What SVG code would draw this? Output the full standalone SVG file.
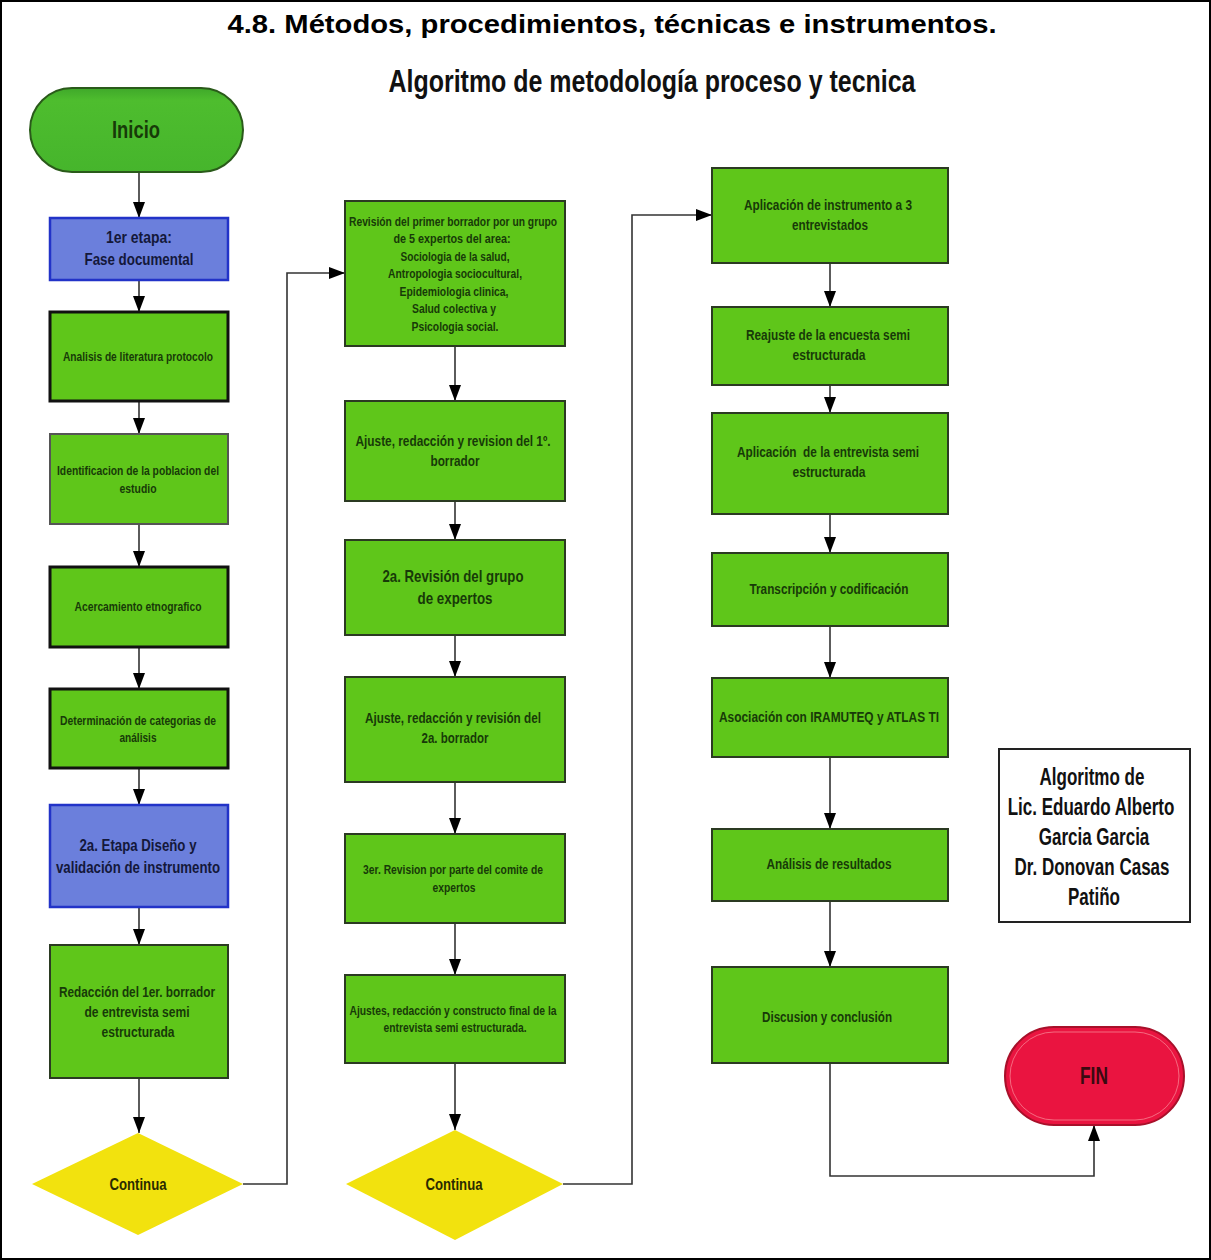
<svg xmlns="http://www.w3.org/2000/svg" width="1211" height="1260" viewBox="0 0 1211 1260">
<defs>
<style>
.t{font-family:"Liberation Sans",Arial,sans-serif;font-weight:bold;text-anchor:middle;}
.g{fill:#5fc61a;stroke:#2b3a22;stroke-width:2;}
.gk{fill:#5fc61a;stroke:#111;stroke-width:3;}
.b{fill:#6b7fdc;stroke:#2233c8;stroke-width:2.5;}
.d{fill:#f2e20e;stroke:none;}
.gt{fill:#173a08;}
.bt{fill:#14183a;}
.c{fill:none;stroke:#333;stroke-width:1.6;}
.au{font-family:"Liberation Sans",Arial,sans-serif;font-weight:bold;font-size:23px;text-anchor:middle;fill:#111;}
</style>
<marker id="ah" viewBox="0 0 16 12" refX="16" refY="6" markerWidth="16" markerHeight="12" markerUnits="userSpaceOnUse" orient="auto">
<path d="M0,0 L16,6 L0,12 z" fill="#000"/>
</marker>
<linearGradient id="ig" x1="0" y1="0" x2="0" y2="1">
<stop offset="0" stop-color="#3fa82a"/>
<stop offset="0.15" stop-color="#4ebd2e"/>
<stop offset="1" stop-color="#46b52c"/>
</linearGradient>
</defs>
<rect x="1" y="1" width="1209" height="1258" fill="#fff" stroke="#000" stroke-width="2"/>
<g id="title">
<text class="t" x="612" y="33" font-size="26.5" textLength="769" lengthAdjust="spacingAndGlyphs">4.8. Métodos, procedimientos, técnicas e instrumentos.</text>
<text class="t" x="652" y="92" font-size="32" textLength="527" lengthAdjust="spacingAndGlyphs" fill="#111">Algoritmo de metodología proceso y tecnica</text>
</g>
<g id="connectors">
<line class="c" x1="139" y1="172" x2="139" y2="218" marker-end="url(#ah)"/>
<line class="c" x1="139" y1="280" x2="139" y2="312" marker-end="url(#ah)"/>
<line class="c" x1="139" y1="401" x2="139" y2="434" marker-end="url(#ah)"/>
<line class="c" x1="139" y1="524" x2="139" y2="567" marker-end="url(#ah)"/>
<line class="c" x1="139" y1="647" x2="139" y2="689" marker-end="url(#ah)"/>
<line class="c" x1="139" y1="768" x2="139" y2="805" marker-end="url(#ah)"/>
<line class="c" x1="139" y1="907" x2="139" y2="945" marker-end="url(#ah)"/>
<line class="c" x1="139" y1="1078" x2="139" y2="1133" marker-end="url(#ah)"/>
<polyline class="c" points="243,1184 287,1184 287,273 345,273" marker-end="url(#ah)"/>
<line class="c" x1="455" y1="346" x2="455" y2="401" marker-end="url(#ah)"/>
<line class="c" x1="455" y1="501" x2="455" y2="540" marker-end="url(#ah)"/>
<line class="c" x1="455" y1="635" x2="455" y2="677" marker-end="url(#ah)"/>
<line class="c" x1="455" y1="782" x2="455" y2="834" marker-end="url(#ah)"/>
<line class="c" x1="455" y1="923" x2="455" y2="975" marker-end="url(#ah)"/>
<line class="c" x1="455" y1="1063" x2="455" y2="1130" marker-end="url(#ah)"/>
<polyline class="c" points="563,1184 632,1184 632,215 712,215" marker-end="url(#ah)"/>
<line class="c" x1="830" y1="263" x2="830" y2="307" marker-end="url(#ah)"/>
<line class="c" x1="830" y1="385" x2="830" y2="413" marker-end="url(#ah)"/>
<line class="c" x1="830" y1="514" x2="830" y2="553" marker-end="url(#ah)"/>
<line class="c" x1="830" y1="626" x2="830" y2="678" marker-end="url(#ah)"/>
<line class="c" x1="830" y1="757" x2="830" y2="829" marker-end="url(#ah)"/>
<line class="c" x1="830" y1="901" x2="830" y2="967" marker-end="url(#ah)"/>
<polyline class="c" points="830,1063 830,1176 1094,1176 1094,1125" marker-end="url(#ah)"/>
</g>
<g id="inicio">
<rect x="30" y="88" width="213" height="84" rx="42" fill="url(#ig)" stroke="#2a5a1a" stroke-width="2"/>
<text class="t gt" x="136" y="138" font-size="24" textLength="48" lengthAdjust="spacingAndGlyphs">Inicio</text>
</g>
<g id="n1">
<rect class="b" x="50" y="218" width="178" height="62"/>
<text class="t bt" x="139" y="243" font-size="17" textLength="66" lengthAdjust="spacingAndGlyphs">1er etapa:</text>
<text class="t bt" x="139" y="265" font-size="17" textLength="109" lengthAdjust="spacingAndGlyphs">Fase documental</text>
</g>
<g id="n2">
<rect class="gk" x="50" y="312" width="178" height="89"/>
<text class="t gt" x="138" y="361" font-size="12.5" textLength="150" lengthAdjust="spacingAndGlyphs">Analisis de literatura protocolo</text>
</g>
<g id="n3">
<rect class="g" x="50" y="434" width="178" height="90" style="stroke:#555"/>
<text class="t gt" x="138" y="475" font-size="13" textLength="162" lengthAdjust="spacingAndGlyphs">Identificacion de la poblacion del</text>
<text class="t gt" x="138" y="493" font-size="13" textLength="37" lengthAdjust="spacingAndGlyphs">estudio</text>
</g>
<g id="n4">
<rect class="gk" x="50" y="567" width="178" height="80"/>
<text class="t gt" x="138" y="611" font-size="13" textLength="127" lengthAdjust="spacingAndGlyphs">Acercamiento etnografico</text>
</g>
<g id="n5">
<rect class="gk" x="50" y="689" width="178" height="79"/>
<text class="t gt" x="138" y="725" font-size="13" textLength="156" lengthAdjust="spacingAndGlyphs">Determinación de categorias de</text>
<text class="t gt" x="138" y="742" font-size="13" textLength="37" lengthAdjust="spacingAndGlyphs">análisis</text>
</g>
<g id="n6">
<rect class="b" x="50" y="805" width="178" height="102"/>
<text class="t bt" x="138" y="851" font-size="17" textLength="117" lengthAdjust="spacingAndGlyphs">2a. Etapa Diseño y</text>
<text class="t bt" x="138" y="873" font-size="17" textLength="164" lengthAdjust="spacingAndGlyphs">validación de instrumento</text>
</g>
<g id="n7">
<rect class="g" x="50" y="945" width="178" height="133"/>
<text class="t gt" x="137" y="997" font-size="14.5" textLength="156" lengthAdjust="spacingAndGlyphs">Redacción del 1er. borrador</text>
<text class="t gt" x="137" y="1017" font-size="14.5" textLength="105" lengthAdjust="spacingAndGlyphs">de entrevista semi</text>
<text class="t gt" x="138" y="1037" font-size="14.5" textLength="73" lengthAdjust="spacingAndGlyphs">estructurada</text>
</g>
<g id="d1">
<polygon class="d" points="138,1133 243,1184 138,1235 32,1184"/>
<text class="t" x="138" y="1190" font-size="16" fill="#2a2a00" textLength="57" lengthAdjust="spacingAndGlyphs">Continua</text>
</g>
<g id="m1">
<rect class="g" x="345" y="201" width="220" height="145"/>
<text class="t gt" x="453" y="226" font-size="12.5" textLength="208" lengthAdjust="spacingAndGlyphs">Revisión del primer borrador por un grupo</text>
<text class="t gt" x="452" y="243" font-size="12.5" textLength="117" lengthAdjust="spacingAndGlyphs">de 5 expertos del area:</text>
<text class="t gt" x="455" y="261" font-size="12.5" textLength="109" lengthAdjust="spacingAndGlyphs">Sociologia de la salud,</text>
<text class="t gt" x="455" y="278" font-size="12.5" textLength="134" lengthAdjust="spacingAndGlyphs">Antropologia sociocultural,</text>
<text class="t gt" x="454" y="296" font-size="12.5" textLength="109" lengthAdjust="spacingAndGlyphs">Epidemiologia clinica,</text>
<text class="t gt" x="454" y="313" font-size="12.5" textLength="84" lengthAdjust="spacingAndGlyphs">Salud colectiva y</text>
<text class="t gt" x="455" y="331" font-size="12.5" textLength="87" lengthAdjust="spacingAndGlyphs">Psicologia social.</text>
</g>
<g id="m2">
<rect class="g" x="345" y="401" width="220" height="100"/>
<text class="t gt" x="453" y="446" font-size="15" textLength="195" lengthAdjust="spacingAndGlyphs">Ajuste, redacción y revision del 1º.</text>
<text class="t gt" x="455" y="466" font-size="15" textLength="49" lengthAdjust="spacingAndGlyphs">borrador</text>
</g>
<g id="m3">
<rect class="g" x="345" y="540" width="220" height="95"/>
<text class="t gt" x="453" y="582" font-size="17" textLength="141" lengthAdjust="spacingAndGlyphs">2a. Revisión del grupo</text>
<text class="t gt" x="455" y="604" font-size="17" textLength="75" lengthAdjust="spacingAndGlyphs">de expertos</text>
</g>
<g id="m4">
<rect class="g" x="345" y="677" width="220" height="105"/>
<text class="t gt" x="453" y="723" font-size="15" textLength="176" lengthAdjust="spacingAndGlyphs">Ajuste, redacción y revisión del</text>
<text class="t gt" x="455" y="743" font-size="15" textLength="67" lengthAdjust="spacingAndGlyphs">2a. borrador</text>
</g>
<g id="m5">
<rect class="g" x="345" y="834" width="220" height="89"/>
<text class="t gt" x="453" y="874" font-size="13" textLength="180" lengthAdjust="spacingAndGlyphs">3er. Revision por parte del comite de</text>
<text class="t gt" x="454" y="892" font-size="13" textLength="43" lengthAdjust="spacingAndGlyphs">expertos</text>
</g>
<g id="m6">
<rect class="g" x="345" y="975" width="220" height="88"/>
<text class="t gt" x="453" y="1015" font-size="13" textLength="207" lengthAdjust="spacingAndGlyphs">Ajustes, redacción y constructo final de la</text>
<text class="t gt" x="455" y="1032" font-size="13" textLength="143" lengthAdjust="spacingAndGlyphs">entrevista semi estructurada.</text>
</g>
<g id="d2">
<polygon class="d" points="455,1130 563,1184 455,1240 346,1184"/>
<text class="t" x="454" y="1190" font-size="16" fill="#2a2a00" textLength="57" lengthAdjust="spacingAndGlyphs">Continua</text>
</g>
<g id="r1">
<rect class="g" x="712" y="168" width="236" height="95"/>
<text class="t gt" x="828" y="210" font-size="14" textLength="168" lengthAdjust="spacingAndGlyphs">Aplicación de instrumento a 3</text>
<text class="t gt" x="830" y="230" font-size="14" textLength="76" lengthAdjust="spacingAndGlyphs">entrevistados</text>
</g>
<g id="r2">
<rect class="g" x="712" y="307" width="236" height="78"/>
<text class="t gt" x="828" y="340" font-size="14" textLength="164" lengthAdjust="spacingAndGlyphs">Reajuste de la encuesta semi</text>
<text class="t gt" x="829" y="360" font-size="14" textLength="73" lengthAdjust="spacingAndGlyphs">estructurada</text>
</g>
<g id="r3">
<rect class="g" x="712" y="413" width="236" height="101"/>
<text class="t gt" x="828" y="457" font-size="14" textLength="182" lengthAdjust="spacingAndGlyphs" xml:space="preserve">Aplicación  de la entrevista semi</text>
<text class="t gt" x="829" y="477" font-size="14" textLength="73" lengthAdjust="spacingAndGlyphs">estructurada</text>
</g>
<g id="r4">
<rect class="g" x="712" y="553" width="236" height="73"/>
<text class="t gt" x="829" y="594" font-size="14" textLength="159" lengthAdjust="spacingAndGlyphs">Transcripción y codificación</text>
</g>
<g id="r5">
<rect class="g" x="712" y="678" width="236" height="79"/>
<text class="t gt" x="829" y="722" font-size="14" textLength="220" lengthAdjust="spacingAndGlyphs">Asociación con IRAMUTEQ y ATLAS TI</text>
</g>
<g id="r6">
<rect class="g" x="712" y="829" width="236" height="72"/>
<text class="t gt" x="829" y="869" font-size="14" textLength="125" lengthAdjust="spacingAndGlyphs">Análisis de resultados</text>
</g>
<g id="r7">
<rect class="g" x="712" y="967" width="236" height="96"/>
<text class="t gt" x="827" y="1022" font-size="14" textLength="130" lengthAdjust="spacingAndGlyphs">Discusion y conclusión</text>
</g>
<g id="author">
<rect x="999" y="749" width="191" height="173" fill="#fff" stroke="#222" stroke-width="2"/>
<text class="au" transform="translate(1092,785) scale(0.74,1)">Algoritmo de</text>
<text class="au" transform="translate(1091,815) scale(0.74,1)">Lic. Eduardo Alberto</text>
<text class="au" transform="translate(1094,845) scale(0.74,1)">Garcia Garcia</text>
<text class="au" transform="translate(1092,875) scale(0.74,1)">Dr. Donovan Casas</text>
<text class="au" transform="translate(1094,905) scale(0.74,1)">Patiño</text>
</g>
<g id="fin">
<rect x="1005" y="1027" width="179" height="98" rx="49" fill="#ea1440" stroke="#a8102a" stroke-width="2"/>
<rect x="1010" y="1032" width="169" height="88" rx="44" fill="none" stroke="#f88090" stroke-width="0.8"/>
<text class="t" x="1094" y="1084" font-size="24" fill="#3a0a10" textLength="28" lengthAdjust="spacingAndGlyphs">FIN</text>
</g>
</svg>
